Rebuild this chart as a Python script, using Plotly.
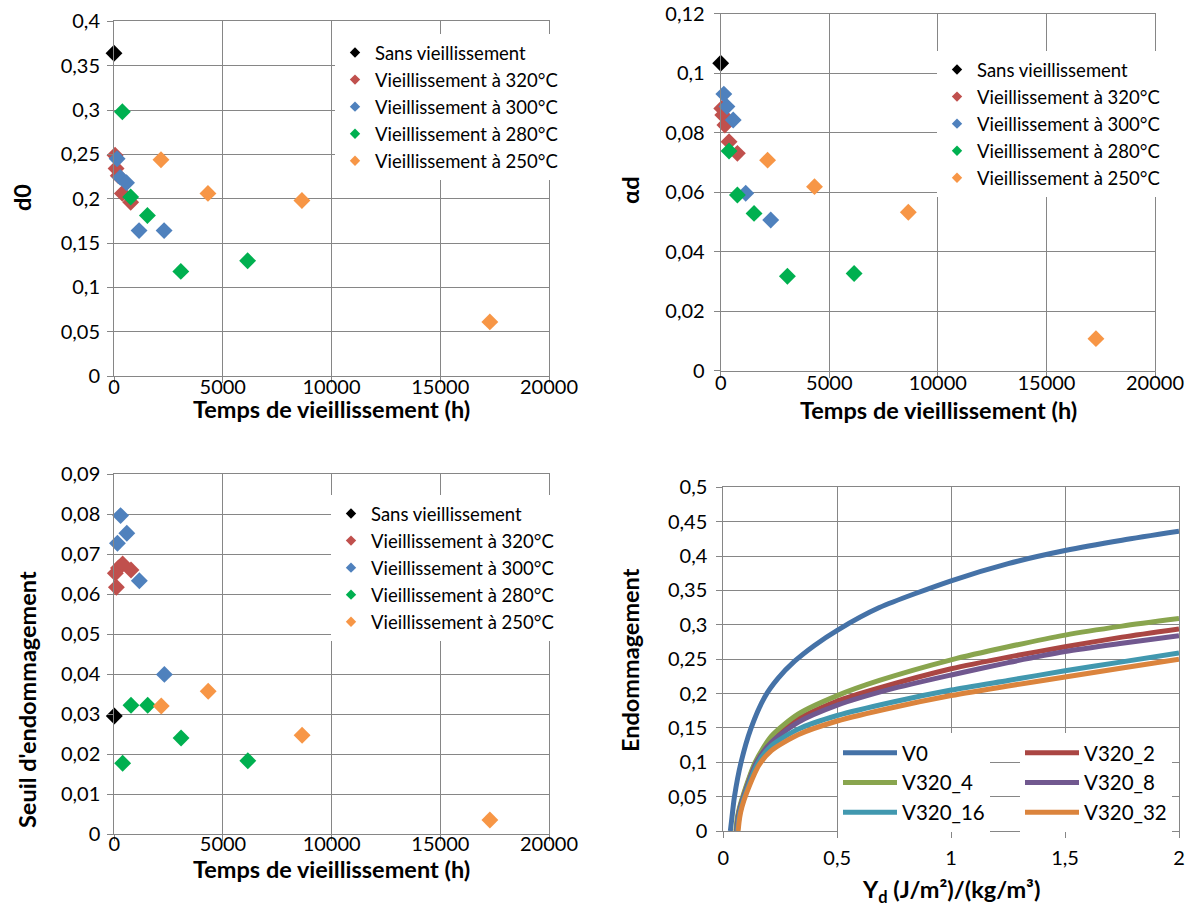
import plotly.graph_objects as go

# ---------------- data ----------------
series_names = ["Sans vieillissement", "Vieillissement à 320°C", "Vieillissement à 300°C",
                "Vieillissement à 280°C", "Vieillissement à 250°C"]
series_colors = ["#000000", "#C0504D", "#4F81BD", "#00B050", "#F79646"]

t_ref = [0]
t_320 = [48, 96, 192, 384, 768]
t_300 = [144, 288, 576, 1152, 2304]
t_280 = [384, 768, 1536, 3072, 6144]
t_250 = [2160, 4320, 8640, 17280]

d0_ref = [0.364]
d0_320 = [0.249, 0.234, 0.226, 0.206, 0.196]
d0_300 = [0.245, 0.224, 0.218, 0.164, 0.164]
d0_280 = [0.298, 0.202, 0.181, 0.118, 0.130]
d0_250 = [0.244, 0.206, 0.198, 0.061]

ad_ref = [0.1034]
ad_320 = [0.0882, 0.0860, 0.0826, 0.0770, 0.0731]
ad_300 = [0.0930, 0.0888, 0.0843, 0.0597, 0.0507]
ad_280 = [0.0739, 0.0591, 0.0529, 0.0318, 0.0327]
ad_250 = [0.0708, 0.0619, 0.0533, 0.0108]

s_ref = [0.0295]
s_320 = [0.0652, 0.0617, 0.0665, 0.0675, 0.0660]
s_300 = [0.0727, 0.0796, 0.0752, 0.0633, 0.0399]
s_280 = [0.0177, 0.0322, 0.0322, 0.0240, 0.0183]
s_250 = [0.0320, 0.0357, 0.0247, 0.0035]

curve_names = ["V0", "V320_2", "V320_4", "V320_8", "V320_16", "V320_32"]
curve_colors = ["#4572A7", "#AA4643", "#89A54E", "#71588F", "#4198AF", "#DB843D"]
yd_v0 = [0.031, 0.038, 0.049, 0.078, 0.121, 0.182, 0.24, 0.313, 0.4, 0.5, 0.685, 1.0, 1.25, 1.5, 1.75, 2.0]
dm_v0 = [0, 0.02, 0.05, 0.10, 0.149, 0.195, 0.222, 0.247, 0.27, 0.292, 0.325, 0.364, 0.389, 0.408, 0.423, 0.436]
yd_v2 = [0.057, 0.064, 0.074, 0.092, 0.143, 0.211, 0.328, 0.5, 0.673, 1.0, 1.25, 1.5, 1.75, 2.0]
dm_v2 = [0, 0.02, 0.035, 0.055, 0.10, 0.133, 0.163, 0.189, 0.207, 0.236, 0.253, 0.268, 0.282, 0.294]
yd_v4 = [0.055, 0.062, 0.072, 0.09, 0.14, 0.211, 0.328, 0.5, 0.685, 1.0, 1.25, 1.5, 1.75, 2.0]
dm_v4 = [0, 0.02, 0.035, 0.055, 0.10, 0.138, 0.17, 0.197, 0.219, 0.249, 0.268, 0.285, 0.298, 0.309]
yd_v8 = [0.058, 0.065, 0.075, 0.094, 0.146, 0.211, 0.328, 0.5, 0.73, 1.0, 1.25, 1.5, 1.75, 2.0]
dm_v8 = [0, 0.02, 0.035, 0.055, 0.10, 0.129, 0.158, 0.183, 0.206, 0.227, 0.245, 0.261, 0.273, 0.284]
yd_v16 = [0.062, 0.069, 0.079, 0.098, 0.15, 0.211, 0.328, 0.5, 0.75, 1.0, 1.25, 1.5, 1.75, 2.0]
dm_v16 = [0, 0.02, 0.035, 0.055, 0.098, 0.124, 0.148, 0.168, 0.188, 0.205, 0.219, 0.233, 0.246, 0.259]
yd_v32 = [0.065, 0.072, 0.082, 0.102, 0.157, 0.211, 0.328, 0.5, 0.75, 1.0, 1.25, 1.5, 1.75, 2.0]
dm_v32 = [0, 0.02, 0.035, 0.055, 0.096, 0.117, 0.14, 0.16, 0.18, 0.197, 0.211, 0.224, 0.237, 0.25]

# ---------------- figure ----------------
FONT = "Lato"
GRID = "#868686"
fig = go.Figure()

times = [t_ref, t_320, t_300, t_280, t_250]
panels = [
    ("x", "y", "legend", [d0_ref, d0_320, d0_300, d0_280, d0_250]),
    ("x2", "y2", "legend2", [ad_ref, ad_320, ad_300, ad_280, ad_250]),
    ("x3", "y3", "legend3", [s_ref, s_320, s_300, s_280, s_250]),
]
for xa, ya, lg, vals in panels:
    for name, col, t, v in zip(series_names, series_colors, times, vals):
        fig.add_trace(go.Scatter(x=t, y=v, mode="markers", xaxis=xa, yaxis=ya,
                                 marker=dict(symbol="diamond", size=13, color=col),
                                 cliponaxis=False, showlegend=False, hoverinfo="x+y"))
    for name, col in zip(series_names, series_colors):
        fig.add_trace(go.Scatter(x=[None], y=[None], mode="markers", xaxis=xa, yaxis=ya,
                                 marker=dict(symbol="diamond", size=8, color=col),
                                 name=name, legend=lg, showlegend=True))

curves = [(yd_v0, dm_v0), (yd_v2, dm_v2), (yd_v4, dm_v4), (yd_v8, dm_v8), (yd_v16, dm_v16), (yd_v32, dm_v32)]
# two legend columns, as in the reference (row order V0 | V320_2, V320_4 | V320_8, V320_16 | V320_32)
curve_legend = ["legend4", "legend5", "legend4", "legend5", "legend4", "legend5"]
for name, col, (xx, yy), lg in zip(curve_names, curve_colors, curves, curve_legend):
    fig.add_trace(go.Scatter(x=xx, y=yy, mode="lines", xaxis="x4", yaxis="y4", name=name,
                             line=dict(color=col, width=5, shape="spline", smoothing=0.7),
                             legend=lg, showlegend=True))

W, H = 1194, 908
def dom(a, b):
    return [a / W, b / W]
def vdom(top, bottom):
    return [1 - bottom / H, 1 - top / H]

def axis(**kw):
    d = dict(showgrid=True, gridcolor=GRID, gridwidth=1, showline=True, linecolor=GRID,
             linewidth=1, mirror=True, ticks="outside", ticklen=6, tickcolor=GRID,
             zeroline=False, tickfont=dict(family=FONT, size=20, color="black"))
    d.update(kw)
    return d

layout = dict(
    width=W, height=H, margin=dict(l=0, r=0, t=0, b=0, autoexpand=False),
    paper_bgcolor="white", plot_bgcolor="white",
    separators=", ",
    font=dict(family=FONT, color="black"),
    xaxis=axis(domain=dom(114, 549), range=[0, 20000], dtick=5000, tickformat="d", anchor="y", ticklabelstandoff=-13),
    yaxis=axis(domain=vdom(21.4, 376), range=[0, 0.4], dtick=0.05, anchor="x", ticklabelstandoff=3),
    xaxis2=axis(domain=dom(720.7, 1155), range=[0, 20000], dtick=5000, tickformat="d", anchor="y2", ticklabelstandoff=-12),
    yaxis2=axis(domain=vdom(13.8, 370.8), range=[0, 0.12], dtick=0.02, anchor="x2", ticklabelstandoff=5),
    xaxis3=axis(domain=dom(114.3, 549), range=[0, 20000], dtick=5000, tickformat="d", anchor="y3", ticklabelstandoff=-14),
    yaxis3=axis(domain=vdom(474, 834), range=[0, 0.09], dtick=0.01, anchor="x3", ticklabelstandoff=3),
    xaxis4=axis(domain=dom(723.3, 1179), range=[0, 2], dtick=0.5, anchor="y4", ticklabelstandoff=3),
    yaxis4=axis(domain=vdom(487.3, 831), range=[0, 0.5], dtick=0.05, anchor="x4", ticklabelstandoff=5),
)

def leg(x, y, **kw):
    d = dict(x=x / W, y=1 - y / H, xref="paper", yref="paper", xanchor="left", yanchor="top",
             bgcolor="white", borderwidth=0, font=dict(family=FONT, size=18.5, color="black"),
             orientation="v")
    d.update(kw)
    return d

layout["legend"] = leg(335, 34)
layout["legend2"] = leg(937, 51)
layout["legend3"] = leg(331, 495)
layout["legend4"] = leg(838, 733, itemwidth=54, font=dict(family=FONT, size=20.5, color="black"))
layout["legend5"] = leg(1020, 733, itemwidth=54, font=dict(family=FONT, size=20.5, color="black"))

fig.update_layout(**layout)

title_font = dict(family=FONT, size=23.5, color="black")
ann = [
    dict(text="<b>Temps de vieillissement (h)</b>", x=331 / W, y=1 - 409 / H),
    dict(text="<b>Temps de vieillissement (h)</b>", x=938 / W, y=1 - 410 / H),
    dict(text="<b>Temps de vieillissement (h)</b>", x=331 / W, y=1 - 869 / H),
    dict(text="<b>Y<sub>d</sub> (J/m²)/(kg/m³)</b>", x=951 / W, y=1 - 891 / H),
    dict(text="<b>d0</b>", x=22 / W, y=1 - 198 / H, textangle=-90),
    dict(text="<b>αd</b>", x=630 / W, y=1 - 190 / H, textangle=-90),
    dict(text="<b>Seuil d'endommagement</b>", x=27 / W, y=1 - 700 / H, textangle=-90),
    dict(text="<b>Endommagement</b>", x=630 / W, y=1 - 660 / H, textangle=-90),
]
for a in ann:
    fig.add_annotation(xref="paper", yref="paper", showarrow=False, font=title_font,
                       xanchor="center", yanchor="middle", **a)

fig.write_html("out.html", config={"displayModeBar": False},
               post_script="document.body.style.margin='0';")
